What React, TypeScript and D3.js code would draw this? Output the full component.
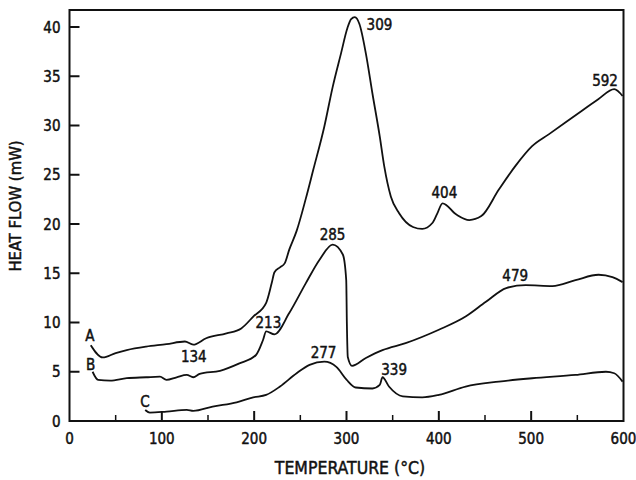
import React, { useEffect, useRef } from 'react';
import * as d3 from 'd3';

// curve A
const tempA = [23, 36, 50, 62, 83, 105, 125, 134, 148, 170, 186, 199, 213, 219, 222, 228, 233, 238, 246, 256, 264, 276, 285, 294, 301, 305, 309, 314, 321, 328, 336, 341, 348, 357, 372, 382, 393, 398, 404, 419, 433, 446, 465, 483, 501, 519, 537, 555, 573, 590, 599];
const flowA = [7.7, 6.45, 6.9, 7.2, 7.55, 7.8, 8.07, 7.75, 8.4, 8.9, 9.4, 10.6, 12.0, 14.0, 15.1, 15.6, 16.0, 17.4, 19.3, 22.6, 25.5, 29.9, 33.9, 37.3, 39.9, 40.8, 41.0, 40.3, 37.3, 33.3, 28.9, 25.8, 22.8, 21.1, 19.7, 19.5, 20.1, 21.0, 22.1, 20.96, 20.4, 20.8, 23.5, 25.9, 27.9, 29.1, 30.3, 31.5, 32.7, 33.7, 33.0];

// curve B
const tempB = [25, 31, 44, 62, 83, 98, 105, 116, 127, 134, 141, 163, 184, 202, 209.5, 213, 222, 238, 256, 271, 285, 296, 299.7, 300.4, 301.4, 306, 321, 339, 364, 400, 429, 451, 473, 494, 523, 548, 573, 588, 599];
const flowB = [5.0, 4.17, 4.1, 4.35, 4.44, 4.5, 4.17, 4.44, 4.68, 4.44, 4.78, 5.1, 5.85, 6.7, 8.2, 9.1, 8.8, 10.96, 14.0, 16.4, 17.9, 16.9, 14.3, 9.9, 6.5, 5.6, 6.4, 7.2, 7.9, 9.26, 10.6, 12.1, 13.5, 13.8, 13.7, 14.3, 14.85, 14.6, 14.1];

// curve C
const tempC = [82, 87, 105, 127, 134, 155, 181, 199, 213, 228, 246, 260, 276, 289, 300, 310, 328, 336, 339, 346, 361, 382, 400, 429, 465, 501, 548, 581, 590, 599];
const flowC = [1.12, 0.85, 0.95, 1.12, 1.02, 1.46, 1.9, 2.4, 2.65, 3.5, 4.85, 5.7, 6.03, 5.5, 4.2, 3.4, 3.3, 3.66, 4.44, 3.5, 2.5, 2.4, 2.65, 3.5, 4.0, 4.34, 4.68, 5.0, 4.85, 4.0];

// annotations (text, temperature, flow)
const noteText = ['A', 'B', 'C', '134', '213', '285', '277', '339', '309', '404', '592', '479'];
const noteTemp = [22, 23, 81.6, 134.6, 215.4, 284.9, 275.1, 351.6, 335.7, 406, 580, 482.7];
const noteFlow = [8.12, 5.18, 1.42, 5.99, 9.44, 18.38, 6.4, 4.67, 39.7, 22.6, 33.96, 14.2];

const xTicks = [0, 100, 200, 300, 400, 500, 600];
const xMinorTicks = [50, 150, 250, 350, 450, 550];
const yTicks = [0, 5, 10, 15, 20, 25, 30, 35, 40];

const FONT = '"DejaVu Sans Condensed", "DejaVu Sans", sans-serif';
const INK = '#111';

const App: React.FC = () => {
    const svgRef = useRef<SVGSVGElement | null>(null);

    useEffect(() => {
        const svg = d3.select(svgRef.current);
        svg.selectAll("*").remove();

        const left = 69.5, right = 623.5, top = 10, bottom = 421;

        const x = d3.scaleLinear().domain([0, 600]).range([left, right]);
        const y = d3.scaleLinear().domain([0, 40]).range([bottom, 27]);

        // text is a bit heavy in the original, thicken with a thin stroke
        const ink = (sel: any, size: number) => sel
            .attr("font-family", FONT).attr("font-size", size)
            .attr("fill", INK).attr("stroke", INK).attr("stroke-width", 0.45);

        // frame
        svg.append("rect")
            .attr("x", left).attr("y", top)
            .attr("width", right - left).attr("height", bottom - top)
            .attr("fill", "none").attr("stroke", INK).attr("stroke-width", 2);

        // X axis ticks (inward)
        svg.append("g")
            .selectAll("line")
            .data(xTicks.slice(1, -1))
            .enter().append("line")
            .attr("x1", d => x(d)).attr("x2", d => x(d))
            .attr("y1", bottom).attr("y2", bottom - 10)
            .attr("stroke", INK).attr("stroke-width", 2);

        svg.append("g")
            .selectAll("line")
            .data(xMinorTicks)
            .enter().append("line")
            .attr("x1", d => x(d)).attr("x2", d => x(d))
            .attr("y1", bottom).attr("y2", bottom - 6)
            .attr("stroke", INK).attr("stroke-width", 1.5);

        ink(svg.append("g")
            .selectAll("text")
            .data(xTicks)
            .enter().append("text")
            .attr("x", d => x(d)).attr("y", bottom + 23)
            .attr("text-anchor", "middle"), 15)
            .text(d => d);

        // Y axis ticks (inward)
        svg.append("g")
            .selectAll("line")
            .data(yTicks.slice(1))
            .enter().append("line")
            .attr("x1", left).attr("x2", left + 10)
            .attr("y1", d => y(d)).attr("y2", d => y(d))
            .attr("stroke", INK).attr("stroke-width", 2);

        ink(svg.append("g")
            .selectAll("text")
            .data(yTicks)
            .enter().append("text")
            .attr("x", left - 9).attr("y", d => y(d) + 5.5)
            .attr("text-anchor", "end"), 15)
            .text(d => d);

        // axis titles
        ink(svg.append("text")
            .attr("x", 350).attr("y", 474)
            .attr("text-anchor", "middle"), 17.5)
            .text("TEMPERATURE (°C)");

        ink(svg.append("text")
            .attr("transform", "translate(21,206) rotate(-90)")
            .attr("text-anchor", "middle"), 16.5)
            .text("HEAT FLOW (mW)");

        // curves
        const line = d3.line<[number, number]>()
            .x(d => x(d[0]))
            .y(d => y(d[1]))
            .curve(d3.curveMonotoneX);

        const series: [number[], number[]][] = [[tempA, flowA], [tempB, flowB], [tempC, flowC]];
        svg.append("g")
            .selectAll("path")
            .data(series)
            .enter().append("path")
            .attr("d", ([t, v]) => line(t.map((tt, i) => [tt, v[i]] as [number, number])))
            .attr("fill", "none")
            .attr("stroke", INK)
            .attr("stroke-width", 1.8)
            .attr("stroke-linejoin", "round");

        // annotations
        ink(svg.append("g")
            .selectAll("text")
            .data(noteText)
            .enter().append("text")
            .attr("x", (_, i) => x(noteTemp[i]))
            .attr("y", (_, i) => y(noteFlow[i]))
            .attr("text-anchor", "middle"), 15)
            .text(d => d);
    }, []);

    return (
        <div style={{ position: 'fixed', left: 0, top: 0 }}>
            <svg ref={svgRef} width={636} height={480} style={{ display: 'block', background: '#fff' }}></svg>
        </div>
    );
};

export default App;
